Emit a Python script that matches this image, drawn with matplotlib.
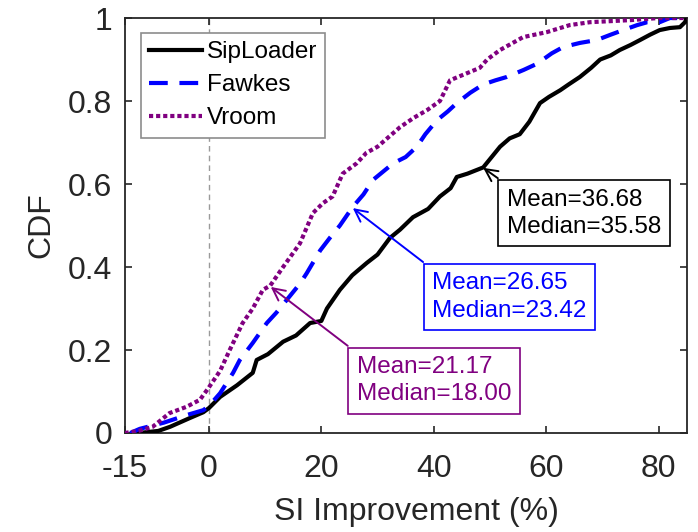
import matplotlib
matplotlib.use("Agg")
import matplotlib.pyplot as plt

plt.rcParams['font.family'] = ['Liberation Sans', 'DejaVu Sans']
plt.rcParams['axes.unicode_minus'] = False

# traced CDF curves (SI improvement %, cumulative fraction)
sip_x = [-12.5, -9, -6.9, -3.4, -1, 0, 2, 5, 7.8, 8.5, 10.5, 13.2, 15.5, 18, 20, 21,
         23.3, 25.5, 28.1, 30, 32.2, 34, 36.3, 39, 41.1, 43, 44.1, 46, 48.8, 50, 51.8,
         53.5, 55.3, 57, 58.9, 60.5, 62.5, 64, 66, 68, 69.6, 71.5, 73.1, 75, 76.7, 78.5,
         80.2, 82, 83.8, 84.7, 85]
sip_y = [0, 0.005, 0.015, 0.036, 0.05, 0.06, 0.087, 0.115, 0.145, 0.176, 0.19, 0.22,
         0.235, 0.265, 0.27, 0.3, 0.345, 0.38, 0.41, 0.43, 0.47, 0.49, 0.52, 0.54, 0.57,
         0.59, 0.617, 0.625, 0.64, 0.66, 0.69, 0.71, 0.72, 0.75, 0.795, 0.81, 0.826, 0.84,
         0.858, 0.88, 0.9, 0.91, 0.923, 0.935, 0.947, 0.96, 0.971, 0.976, 0.978, 0.99, 1.0]

fawkes_x = [-14, -12.3, -8, -4, -1, 0, 2, 4.3, 5.5, 7.8, 10.3, 12, 14.4, 16.2, 17.4,
            19.8, 21.5, 23.3, 25.6, 27.5, 29.2, 31, 32.8, 35, 37, 38.5, 40.6, 42.5, 44.1,
            46.5, 48.8, 51, 53, 56, 58.4, 61, 63, 66, 69, 71.5, 73.7, 76.2, 78, 80.2, 82, 85]
fawkes_y = [0, 0.01, 0.025, 0.043, 0.055, 0.065, 0.096, 0.145, 0.176, 0.217, 0.265, 0.29,
            0.33, 0.36, 0.385, 0.44, 0.47, 0.5, 0.545, 0.575, 0.61, 0.63, 0.65, 0.665, 0.69,
            0.72, 0.754, 0.775, 0.795, 0.82, 0.84, 0.85, 0.858, 0.875, 0.89, 0.915, 0.93,
            0.94, 0.947, 0.96, 0.971, 0.983, 0.99, 0.99, 1.0, 1.0]

vroom_x = [-15, -12.5, -10, -7, -4, -1.6, 0, 2, 3.7, 6, 7.8, 9.6, 10.9, 13.2, 16.2, 18.5,
           20.3, 22, 23.8, 26.3, 28, 30, 34, 36.5, 38.8, 41.1, 42.9, 45.9, 48.2, 49.5, 51.8,
           55.9, 60.1, 64.2, 67.8, 75, 80, 85]
vroom_y = [0, 0.005, 0.015, 0.048, 0.063, 0.08, 0.11, 0.15, 0.2, 0.265, 0.3, 0.345, 0.355,
           0.4, 0.457, 0.53, 0.554, 0.57, 0.625, 0.65, 0.675, 0.69, 0.737, 0.76, 0.778, 0.8,
           0.85, 0.867, 0.88, 0.9, 0.923, 0.954, 0.966, 0.983, 0.99, 0.995, 1.0, 1.0]

# annotation: text, arrow tip, box top-left corner
notes = [
    ("Mean=36.68\nMedian=35.58", (48.8, 0.639), (51.4, 0.614), 'black'),
    ("Mean=26.65\nMedian=23.42", (25.6, 0.542), (38.1, 0.412), 'blue'),
    ("Mean=21.17\nMedian=18.00", (11.0, 0.352), (24.7, 0.210), 'purple'),
]

xticks = [-15, 0, 20, 40, 60, 80]
yticks = [0, 0.2, 0.4, 0.6, 0.8, 1]
ytick_labels = ['0', '0.2', '0.4', '0.6', '0.8', '1']

fig = plt.figure(figsize=(6.98, 5.32), dpi=100)
ax = fig.add_axes([0.1785, 0.1861, 0.8053, 0.780])

ax.axvline(0, color='#9a9a9a', lw=1, ls=(0, (4, 3)), zorder=1)

ax.plot(sip_x, sip_y, color='black', lw=3, label='SipLoader', zorder=3)
ax.plot(fawkes_x, fawkes_y, color='blue', lw=3, ls=(0, (4.5, 2.8)),
        dash_capstyle='butt', label='Fawkes', zorder=3)
ax.plot(vroom_x, vroom_y, color='purple', lw=3, ls=(0, (1, 0.7)),
        dash_capstyle='butt', label='Vroom', zorder=3)

for text, tip, corner, col in notes:
    ax.annotate('', xy=tip, xytext=corner,
                arrowprops=dict(arrowstyle='->', color=col, lw=1.4,
                                shrinkA=0, shrinkB=0, mutation_scale=22))
    ax.annotate(text, xy=corner, xytext=(6.5, -7.5), textcoords='offset points',
                ha='left', va='top', fontsize=17.5, color=col, linespacing=1.3,
                bbox=dict(boxstyle='square,pad=0.35', fc='white', ec=col, lw=1.2))

ax.set_xlim(-15, 85)
ax.set_ylim(0, 1)
ax.set_xticks(xticks)
ax.set_yticks(yticks)
ax.set_yticklabels(ytick_labels)
ax.tick_params(direction='in', length=5, width=1.2, top=True, right=True,
               labelsize=23, colors='#262626', pad=9)
ax.tick_params(axis='x', pad=15)
for s in ax.spines.values():
    s.set_linewidth(1.3)
    s.set_color('#262626')

ax.set_xlabel('SI Improvement (%)', fontsize=23, color='#262626', labelpad=10)
ax.xaxis.set_label_coords(0.52, -0.155)
ax.set_ylabel('CDF', fontsize=23, color='#262626', labelpad=8)

leg = ax.legend(loc='upper left', bbox_to_anchor=(0.029, 0.964), borderaxespad=0,
                fontsize=17.5, handlelength=2.15, handletextpad=0.2,
                labelspacing=0.45, borderpad=0.35, fancybox=False, framealpha=1)
leg.get_frame().set_edgecolor('#8c8c8c')
leg.get_frame().set_linewidth(1.2)

fig.savefig('out.png', dpi=100)
